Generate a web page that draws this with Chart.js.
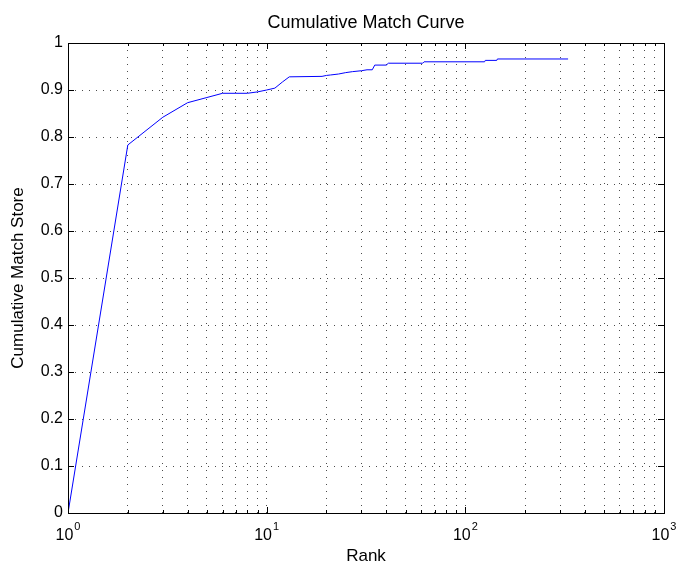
<!DOCTYPE html>
<html>
<head>
<meta charset="utf-8">
<title>Cumulative Match Curve</title>
<script src="https://cdn.jsdelivr.net/npm/chart.js@4.4.1/dist/chart.umd.min.js"></script>
<style>
  html, body { margin: 0; padding: 0; background: #fff; }
  #cmcChart { display: block; }
</style>
</head>
<body>
<canvas id="cmcChart" width="680" height="567"></canvas>
<script>
// rank -> cumulative match score (flat runs kept by their end points)
const ranks  = [1, 2, 3, 4, 5, 6, 7, 8, 9, 10, 11, 12, 13, 19, 20, 21, 23, 25, 27, 30, 32, 34, 35, 40, 41, 61, 62, 125, 126, 144, 145, 329];
const scores = [0, 0.783, 0.842, 0.873, 0.884, 0.893, 0.893, 0.893, 0.896, 0.900, 0.904, 0.917, 0.928, 0.929, 0.931, 0.932, 0.934, 0.937, 0.939, 0.941, 0.943, 0.943, 0.953, 0.953, 0.957, 0.957, 0.960, 0.960, 0.963, 0.963, 0.966, 0.966];

const yTicks      = [0, 0.1, 0.2, 0.3, 0.4, 0.5, 0.6, 0.7, 0.8, 0.9, 1];
const yTickLabels = ['0', '0.1', '0.2', '0.3', '0.4', '0.5', '0.6', '0.7', '0.8', '0.9', '1'];
const xDecades    = [1, 10, 100, 1000];
const xExponents  = ['0', '1', '2', '3'];
const xMinorSteps = [2, 3, 4, 5, 6, 7, 8, 9];

const FONT = '"Liberation Sans", Arial, Helvetica, sans-serif';
const GRID = 'rgba(0,0,0,0.7)';

// log grid: every decade plus its 2..9 multiples
const xTicks = [];
xDecades.forEach((d, i) => {
    xTicks.push(d);
    if (i < xDecades.length - 1) xMinorSteps.forEach(m => xTicks.push(d * m));
});

// box, inward tick marks on all sides and the 10^n labels (matlab look)
const matlabFrame = {
    id: 'matlabFrame',
    afterDraw(chart) {
        const { ctx, chartArea: a, scales: { x, y } } = chart;
        ctx.save();
        ctx.strokeStyle = '#000';
        ctx.lineWidth = 1;
        ctx.setLineDash([]);

        ctx.beginPath();
        y.ticks.forEach(t => {
            const py = Math.round(y.getPixelForValue(t.value)) + 0.5;
            ctx.moveTo(a.left, py);  ctx.lineTo(a.left + 6, py);
            ctx.moveTo(a.right, py); ctx.lineTo(a.right - 6, py);
        });
        x.ticks.forEach(t => {
            const len = xDecades.includes(t.value) ? 6 : 3;
            const px = Math.round(x.getPixelForValue(t.value)) + 0.5;
            ctx.moveTo(px, a.bottom); ctx.lineTo(px, a.bottom - len);
            ctx.moveTo(px, a.top);    ctx.lineTo(px, a.top + len);
        });
        ctx.stroke();
        ctx.strokeRect(Math.round(a.left) + 0.5, Math.round(a.top) + 0.5,
                       Math.round(a.width), Math.round(a.height));

        ctx.fillStyle = '#000';
        ctx.textBaseline = 'alphabetic';
        ctx.textAlign = 'left';
        xDecades.forEach((d, i) => {
            const px = x.getPixelForValue(d);
            ctx.font = `16px ${FONT}`;
            const wBase = ctx.measureText('10').width;
            ctx.font = `11px ${FONT}`;
            const wExp = ctx.measureText(xExponents[i]).width;
            const x0 = px - (wBase + wExp + 1) / 2;
            ctx.font = `16px ${FONT}`;
            ctx.fillText('10', x0, a.bottom + 27);
            ctx.font = `11px ${FONT}`;
            ctx.fillText(xExponents[i], x0 + wBase + 1, a.bottom + 17);
        });
        ctx.restore();
    }
};

const chart = new Chart(document.getElementById('cmcChart').getContext('2d'), {
    type: 'line',
    data: {
        datasets: [{
            data: ranks.map((r, i) => ({ x: r, y: scores[i] })),
            borderColor: '#0000ff',
            borderWidth: 1,
            pointRadius: 0,
            tension: 0,
            fill: false
        }]
    },
    options: {
        responsive: false,
        animation: false,
        layout: { padding: { left: 0, right: 16, top: 0, bottom: 0 } },
        plugins: {
            legend: { display: false },
            tooltip: { enabled: false },
            title: {
                display: true,
                fullSize: false,
                text: 'Cumulative Match Curve',
                color: '#000',
                font: { family: FONT, size: 18, weight: 'normal', lineHeight: 1.2 },
                padding: { top: 12.4, bottom: 9 }
            }
        },
        scales: {
            x: {
                type: 'logarithmic',
                min: 1,
                max: 1000,
                afterBuildTicks: s => { s.ticks = xTicks.map(v => ({ value: v })); },
                afterFit: s => { s.height = 54; },
                ticks: { display: false },
                grid: { color: GRID, drawTicks: false },
                border: { display: false, dash: [1, 6] },
                title: {
                    display: true,
                    text: 'Rank',
                    color: '#000',
                    font: { family: FONT, size: 17 },
                    padding: { top: 0, bottom: 0 }
                }
            },
            y: {
                min: 0,
                max: 1,
                afterBuildTicks: s => { s.ticks = yTicks.map(v => ({ value: v })); },
                afterFit: s => { s.width = 68; },
                ticks: {
                    callback: (v, i) => yTickLabels[i],
                    color: '#000',
                    font: { family: FONT, size: 16 },
                    padding: 5,
                    autoSkip: false
                },
                grid: { color: GRID, drawTicks: false },
                border: { display: false, dash: [1, 6] },
                title: {
                    display: true,
                    text: 'Cumulative Match Store',
                    color: '#000',
                    font: { family: FONT, size: 17 },
                    padding: { top: 8, bottom: 0 }
                }
            }
        }
    },
    plugins: [matlabFrame]
});
</script>
</body>
</html>
